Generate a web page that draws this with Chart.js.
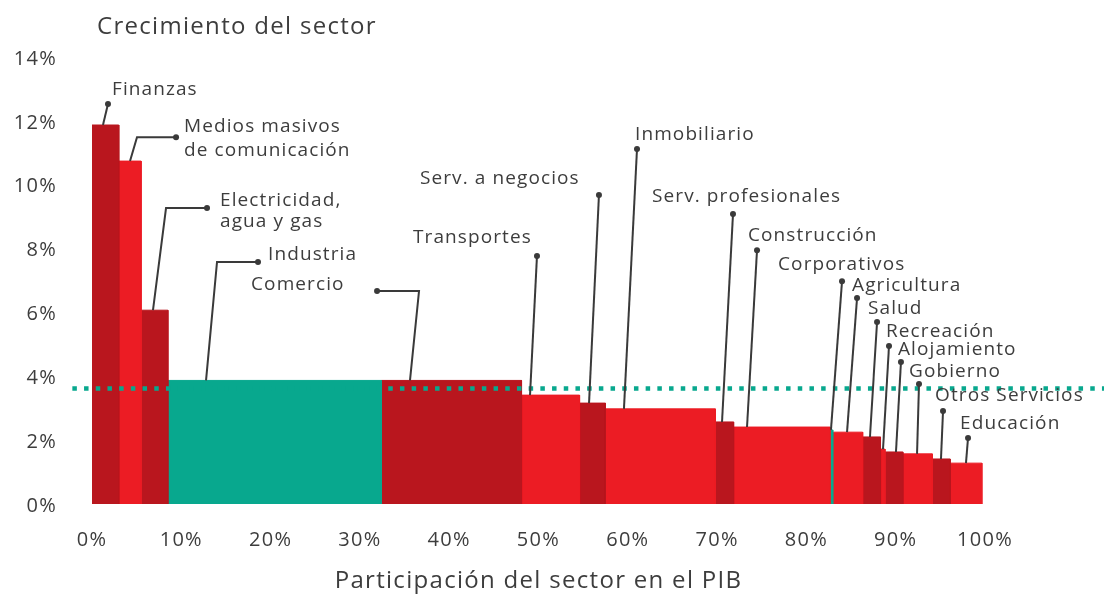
<!DOCTYPE html>
<html>
<head>
<meta charset="utf-8">
<script src="https://cdn.jsdelivr.net/npm/chart.js@4.4.0/dist/chart.umd.min.js"></script>
<style>
    body { margin: 0; background: #fff; }
    #chartWrap { width: 1104px; height: 600px; }
</style>
</head>
<body>
<div id="chartWrap"><canvas id="myChart" width="1104" height="600"></canvas></div>
<script>
// sectors, their share of GDP (bar width, %) and growth (bar height, %)
const sectors = ['Finanzas', 'Medios masivos de comunicación', 'Electricidad, agua y gas', 'Industria',
    'Comercio', 'Transportes', 'Serv. a negocios', 'Inmobiliario', 'Serv. profesionales', 'Construcción',
    'Corporativos', 'Agricultura', 'Salud', 'Recreación', 'Alojamiento', 'Gobierno', 'Otros Servicios', 'Educación'];
const gdpShare = [3.0, 2.5, 3.0, 23.9, 15.7, 6.5, 2.9, 12.3, 2.05, 10.8, 0.3, 3.35, 2.0, 0.5, 2.0, 3.3, 2.0, 3.55];
const growth = [11.87, 10.74, 6.07, 3.87, 3.87, 3.41, 3.16, 2.98, 2.57, 2.41, 2.32, 2.25, 2.10, 1.72, 1.63, 1.57, 1.41, 1.28];
const averageGrowth = 3.62;

const xTicks = [0, 10, 20, 30, 40, 50, 60, 70, 80, 90, 100];
const yTicks = [0, 2, 4, 6, 8, 10, 12, 14];

// label text for each sector (line breaks as in the picture)
const labelLines = [['Finanzas'], ['Medios masivos', 'de comunicación'], ['Electricidad,', 'agua y gas'], ['Industria'],
    ['Comercio'], ['Transportes'], ['Serv. a negocios'], ['Inmobiliario'], ['Serv. profesionales'], ['Construcción'],
    ['Corporativos'], ['Agricultura'], ['Salud'], ['Recreación'], ['Alojamiento'], ['Gobierno'], ['Otros Servicios'], ['Educación']];

// leader lines, in axis units: foot x on the bar top, optional elbow x, dot (x, y)
const leaderFootX = [1.23, 4.26, 6.83, 12.77, 35.61, 49.05, 55.66, 59.57, 70.55, 73.35, 82.75, 84.55, 87.12, 88.58, 90.03, 92.39, 95.07, 97.87];
const leaderElbowX = [null, 5.04, 8.29, 14.0, 36.62, null, null, null, null, null, null, null, null, null, null, null, null, null];
const leaderDotX = [1.79, 9.41, 12.88, 18.59, 31.92, 49.83, 56.77, 61.03, 71.78, 74.47, 83.99, 85.67, 87.91, 89.25, 90.59, 92.61, 95.30, 98.10];
const leaderDotY = [12.53, 11.49, 9.27, 7.58, 6.67, 7.77, 9.68, 11.12, 9.08, 7.95, 6.98, 6.45, 5.70, 4.95, 4.45, 3.76, 2.91, 2.07];

// text offset from the dot (px) and line gap
const textDx = [4, 8, 13, 10, -126, -124, -179, -2, -81, -9, -64, -5, -9, -3, -3, -10, -8, -8];
const textDy = [-14, -11, -7, -7, -6, -18, -16, -14, -17, -15, -17, -12, -13, -14, -12, -12, -15, -14];
const lineGap = [0, 24, 21, 0, 0, 0, 0, 0, 0, 0, 0, 0, 0, 0, 0, 0, 0, 0];

const darkRed = '#b9161e';
const red = '#ec1c24';
const teal = '#08a88e';
const textColor = '#3d3d3d';
const barColors = [darkRed, red, darkRed, teal, darkRed, red, darkRed, red, darkRed, red,
    teal, red, darkRed, red, darkRed, red, darkRed, red];

// dotted average line runs past the plot on both sides
const avgLineFrom = -2.2;
const avgLineTo = 130;

// each bar is a closed outline (corners from share and growth) filled down to zero
let start = 0;
let barDatasets = sectors.map((name, i) => {
    let end = start + gdpShare[i];
    let ds = {
        type: 'line',
        label: name,
        data: [
            { x: start, y: 0 },
            { x: start, y: growth[i] },
            { x: end, y: growth[i] },
            { x: end, y: 0 }
        ],
        backgroundColor: barColors[i],
        borderColor: barColors[i],
        borderWidth: 1,
        pointRadius: 0,
        fill: 'origin',
        order: 2
    };
    start = end;
    return ds;
});

let avgDataset = {
    type: 'line',
    label: 'Promedio',
    data: [{ x: avgLineFrom, y: averageGrowth }, { x: avgLineTo, y: averageGrowth }],
    borderColor: teal,
    borderWidth: 4.5,
    borderDash: [4.5, 7.2],
    borderCapStyle: 'butt',
    pointRadius: 0,
    fill: false,
    clip: false,
    order: 0
};

const labelPlugin = {
    id: 'sectorLabels',
    beforeDraw(chart) {
        chart.ctx.letterSpacing = '1.3px';
    },
    afterDatasetsDraw(chart) {
        let ctx = chart.ctx;
        let xs = chart.scales.x;
        let ys = chart.scales.y;
        ctx.save();

        // title
        ctx.letterSpacing = '1.3px';
        ctx.font = '24px "Open Sans"';
        ctx.fillStyle = textColor;
        ctx.textAlign = 'left';
        ctx.textBaseline = 'alphabetic';
        ctx.fillText('Crecimiento del sector', 97, 34);

        ctx.letterSpacing = '1.1px';
        ctx.font = '19px "Open Sans"';
        ctx.textBaseline = 'middle';
        ctx.strokeStyle = '#3a3a3a';
        ctx.lineWidth = 2;

        labelLines.forEach((lines, i) => {
            let footX = xs.getPixelForValue(leaderFootX[i]);
            let footY = ys.getPixelForValue(growth[i]);
            let dotX = xs.getPixelForValue(leaderDotX[i]);
            let dotY = ys.getPixelForValue(leaderDotY[i]);

            ctx.beginPath();
            ctx.moveTo(footX, footY);
            if (leaderElbowX[i] !== null) {
                ctx.lineTo(xs.getPixelForValue(leaderElbowX[i]), dotY);
            }
            ctx.lineTo(dotX, dotY);
            ctx.stroke();

            ctx.beginPath();
            ctx.arc(dotX, dotY, 3, 0, Math.PI * 2);
            ctx.fillStyle = '#3a3a3a';
            ctx.fill();

            ctx.fillStyle = textColor;
            lines.forEach((line, j) => {
                ctx.fillText(line, dotX + textDx[i], dotY + textDy[i] + j * lineGap[i]);
            });
        });
        ctx.restore();
    }
};

let myChart = new Chart(document.getElementById('myChart'), {
    type: 'line',
    data: { datasets: barDatasets.concat([avgDataset]) },
    options: {
        responsive: false,
        animation: false,
        devicePixelRatio: 1,
        layout: { padding: { left: 0, top: 57, right: 119, bottom: 0 } },
        plugins: {
            legend: { display: false },
            tooltip: { enabled: false }
        },
        scales: {
            x: {
                type: 'linear',
                min: 0,
                max: 100,
                afterFit: (scale) => { scale.height = 96; },
                afterBuildTicks: (scale) => { scale.ticks = xTicks.map(v => ({ value: v })); },
                grid: { display: false, drawTicks: false },
                border: { display: false },
                ticks: {
                    padding: 24,
                    color: textColor,
                    font: { family: 'Open Sans', size: 20 },
                    maxRotation: 0,
                    callback: (v) => v + '%'
                },
                title: {
                    display: true,
                    text: 'Participación del sector en el PIB',
                    color: textColor,
                    font: { family: 'Open Sans', size: 24 },
                    padding: { top: 0, bottom: 4 }
                }
            },
            y: {
                min: 0,
                max: 14,
                afterFit: (scale) => { scale.width = 92; },
                afterBuildTicks: (scale) => { scale.ticks = yTicks.map(v => ({ value: v })); },
                grid: { display: false, drawTicks: false },
                border: { display: false },
                ticks: {
                    padding: 35,
                    labelOffset: 2,
                    color: textColor,
                    font: { family: 'Open Sans', size: 20 },
                    callback: (v) => v + '%'
                }
            }
        }
    },
    plugins: [labelPlugin]
});
</script>
</body>
</html>
